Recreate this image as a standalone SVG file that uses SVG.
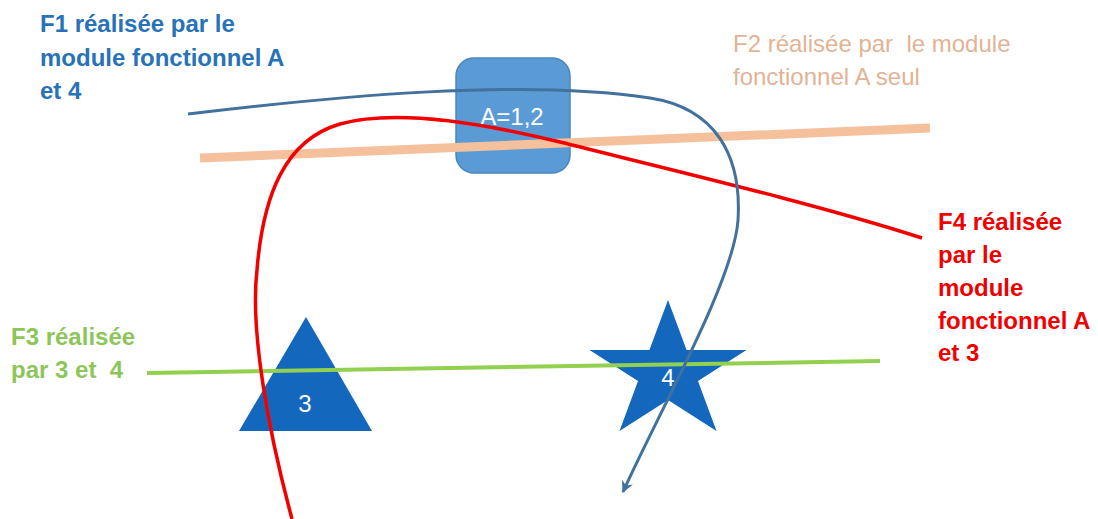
<svg xmlns="http://www.w3.org/2000/svg" width="1098" height="519" viewBox="0 0 1098 519">
<defs>
<marker id="arr" viewBox="0 0 10 10" refX="9" refY="5" markerWidth="4" markerHeight="4" orient="auto" markerUnits="strokeWidth">
<path d="M0,0 L10,5 L0,10 L3,5 Z" fill="#41719C"/>
</marker>
<style>
.lbl{font-family:"Liberation Sans",Arial,sans-serif;font-size:24px;white-space:pre}
.b{font-weight:bold}
.shape{fill:#1368BD}
.wt{font-family:"Liberation Sans",Arial,sans-serif;font-size:24px;fill:#FFFFFF;text-anchor:middle}
.ln{fill:none;stroke-linecap:butt}
</style>
</defs>
<rect width="1098" height="519" fill="#FFFFFF"/>

<g id="nodeA">
<rect x="456" y="58" width="114" height="115" rx="18" ry="18" fill="#5B9BD5" stroke="#4A86BF" stroke-width="1.5"/>
<text class="wt" x="512" y="125">A=1,2</text>
</g>
<g id="node3">
<polygon class="shape" points="306,317 372,431 239,431"/>
<text class="wt" x="305" y="412">3</text>
</g>
<g id="node4">
<polygon class="shape" points="668,300 686.6,350 746.5,350 698,381 716.5,431 668,400 619.5,431 638,381 589.5,350 649.4,350"/>
<text class="wt" x="668" y="386">4</text>
</g>

<g id="connectors">
<path id="f2line" class="ln" d="M200,158 L930,128" stroke="#F5C09C" stroke-width="9"/>
<path id="f3line" class="ln" d="M147,373 L880,361" stroke="#92D050" stroke-width="4"/>
<path id="f4curve" class="ln" d="M292,519 C268,430 250,330 257,270 C263,195 285,140 340,124 C390,110 470,120 560,142 C680,172 820,205 922,238" stroke="#F20000" stroke-width="3.5"/>
<path id="f1curve" class="ln" d="M188,114 C330,97 520,78 650,98 C715,108 742,155 738,220 C734,280 660,410 623,492" stroke="#41719C" stroke-width="3" marker-end="url(#arr)"/>
</g>

<g id="labelF1" class="lbl b" fill="#2772B8">
<text x="40" y="32">F1 réalisée par le</text>
<text x="40" y="66">module fonctionnel A</text>
<text x="40" y="99">et 4</text>
</g>
<g id="labelF2" class="lbl" fill="#E2B394">
<text x="733" y="52" xml:space="preserve">F2 réalisée par  le module</text>
<text x="733" y="85">fonctionnel A seul</text>
</g>
<g id="labelF3" class="lbl b" fill="#8CC65A">
<text x="11" y="345">F3 réalisée</text>
<text x="11" y="378" xml:space="preserve">par 3 et  4</text>
</g>
<g id="labelF4" class="lbl b" fill="#F00000">
<text x="938" y="230">F4 réalisée</text>
<text x="938" y="263">par le</text>
<text x="938" y="296">module</text>
<text x="938" y="329">fonctionnel A</text>
<text x="938" y="361">et 3</text>
</g>
</svg>
